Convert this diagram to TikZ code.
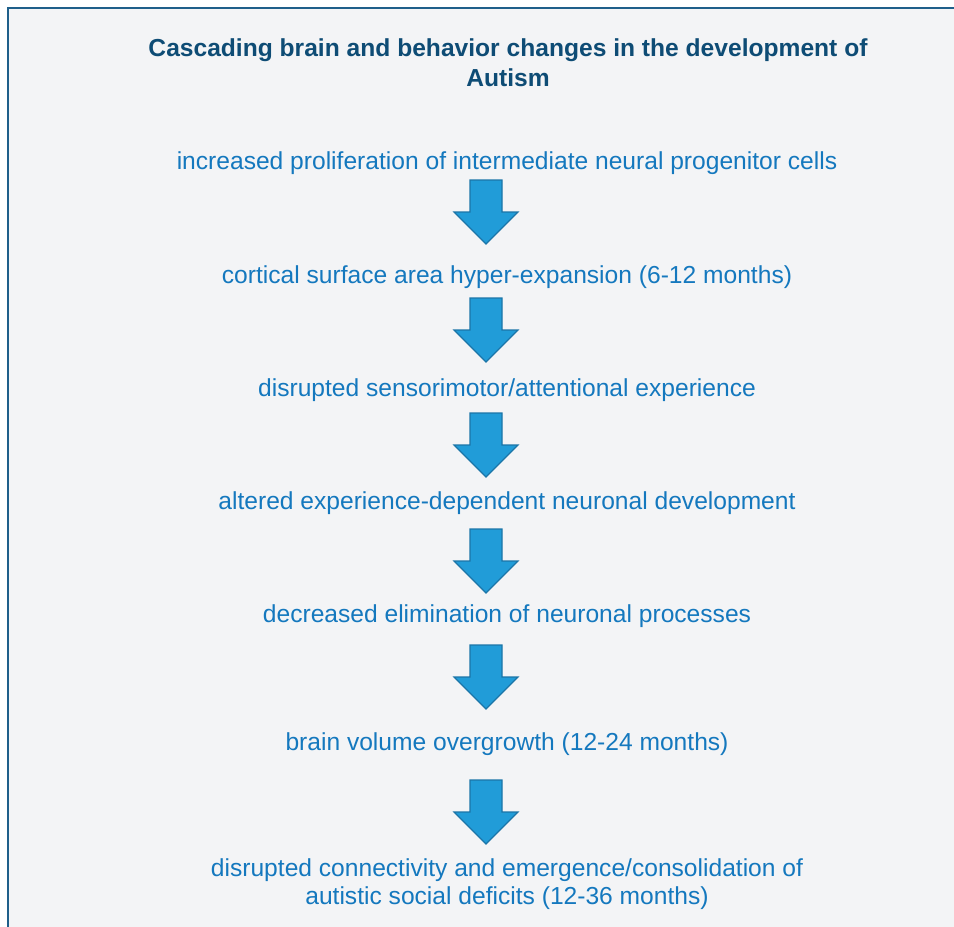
\documentclass[tikz,border=0pt]{standalone}
\usepackage{fontspec}
\setmainfont{Liberation Sans}
\definecolor{bgfill}{RGB}{243,244,246}
\definecolor{framecol}{RGB}{31,95,138}
\definecolor{titlecol}{RGB}{14,76,117}
\definecolor{bodycol}{RGB}{20,120,190}
\definecolor{arrowfill}{RGB}{33,156,216}
\definecolor{arrowdraw}{RGB}{27,117,168}
\tikzset{
  titletext/.style={font=\fontsize{24.6}{29.5}\selectfont\bfseries, text=titlecol, align=center, inner sep=0pt},
  bodytext/.style={font=\fontsize{24.6}{28}\selectfont, text=bodycol, align=center, inner sep=0pt},
  blockarrow/.style={fill=arrowfill, draw=arrowdraw, line width=1.2pt, line join=miter}
}
\begin{document}
\begin{tikzpicture}[x=1pt,y=-1pt]
\useasboundingbox (0,0) rectangle (954,927);
\fill[white] (0,0) rectangle (954,927);
\fill[bgfill] (8,8) rectangle (960,935);
\draw[framecol, line width=2.8pt] (8,935) -- (8,8) -- (960,8);
\node[titletext, anchor=base] (title) at (508,86) {Cascading brain and behavior changes in the development of\\Autism};
\node[bodytext, anchor=base] (t1) at (507,169) {increased proliferation of intermediate neural progenitor cells};
\node[bodytext, anchor=base] (t2) at (507,283) {cortical surface area hyper-expansion (6-12 months)};
\node[bodytext, anchor=base] (t3) at (507,396) {disrupted sensorimotor/attentional experience};
\node[bodytext, anchor=base] (t4) at (507,509) {altered experience-dependent neuronal development};
\node[bodytext, anchor=base] (t5) at (507,622) {decreased elimination of neuronal processes};
\node[bodytext, anchor=base] (t6) at (507,750) {brain volume overgrowth (12-24 months)};
\node[bodytext, anchor=base] (t7) at (507,904) {disrupted connectivity and emergence/consolidation of\\autistic social deficits (12-36 months)};
\foreach \yt in {180,298,413,529,645,780}{
  \draw[blockarrow] (470,\yt) -- (502,\yt) -- (502,\yt+32) -- (518,\yt+32) -- (486,\yt+64) -- (454,\yt+32) -- (470,\yt+32) -- cycle;
}
\end{tikzpicture}
\end{document}
